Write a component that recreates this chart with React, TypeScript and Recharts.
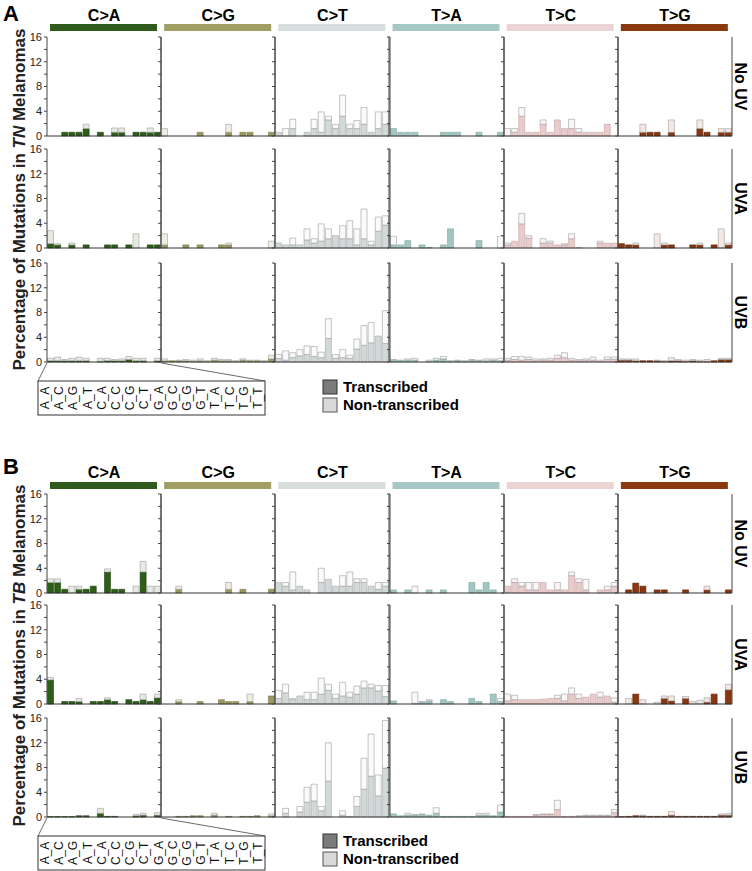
import { BarChart, Bar, XAxis, YAxis, ReferenceLine } from "recharts";

const FONT = '"Liberation Sans", Arial, sans-serif';

const TYPES = ["C>A", "C>G", "C>T", "T>A", "T>C", "T>G"];
const CONTEXTS = [
  "A_A", "A_C", "A_G", "A_T", "C_A", "C_C", "C_G", "C_T",
  "G_A", "G_C", "G_G", "G_T", "T_A", "T_C", "T_G", "T_T",
];
const ROW_NAMES = ["No UV", "UVA", "UVB"];
const Y_TICKS = [0, 2, 4, 6, 8, 10, 12, 14, 16];

// transcribed value and total bar height (transcribed + non-transcribed), 16 contexts x 6 types
const tnNoUvTrans = [
  0, 0, 0.6, 0.6, 0.6, 1.2, 0, 0.6, 0, 0.6, 0.6, 0, 0.6, 0.6, 0.6, 0.6,
  0, 0, 0, 0, 0, 0.6, 0, 0, 0, 0.6, 0, 0.6, 0.6, 0, 0, 0.6,
  0.6, 0, 1.2, 0, 0.6, 1.2, 0.6, 2.6, 1.2, 3.2, 1.2, 1.2, 1.9, 0.6, 1.2, 1.9,
  1.2, 0.6, 0.6, 0.6, 0, 0, 0, 0.6, 0.6, 0.6, 0, 0, 0.6, 0, 0, 0.6,
  0, 0.6, 3.2, 0.6, 0.6, 1.9, 0.6, 2.6, 1.2, 1.2, 0.6, 0.6, 0.6, 0.6, 1.9, 0,
  0, 0, 0, 0.6, 0.6, 0.6, 0, 0.6, 0, 0, 0, 1.2, 0.6, 0, 0.6, 0.6,
];
const tnNoUvTotal = [
  0, 0, 0.6, 0.6, 0.6, 1.9, 0, 0.6, 0, 1.3, 1.3, 0, 0.6, 0.6, 1.3, 0.6,
  1.2, 0, 0, 0, 0, 0.6, 0, 0, 0, 1.9, 0, 0.6, 0.6, 0, 0, 0.6,
  0.6, 1.2, 2.7, 0, 0.6, 2.7, 3.9, 3.2, 1.9, 6.6, 1.9, 2.5, 4.6, 0.6, 3.9, 3.9,
  1.2, 0.6, 0.6, 0.6, 0, 0, 0, 0.6, 0.6, 0.6, 0, 0, 0.6, 0, 0, 0.6,
  1.2, 1.2, 4.6, 0.6, 0.6, 2.6, 0.6, 2.6, 1.2, 2.7, 1.2, 0.6, 0.6, 0.6, 1.9, 0,
  0, 0, 0, 1.9, 0.6, 0.6, 0, 2.6, 0, 0, 0, 2.6, 0.6, 0, 1.2, 1.2,
];
const tnUvaTrans = [
  0.7, 0.5, 0, 0.5, 0, 0.5, 0, 0, 0.5, 0.5, 0, 0.5, 0, 0, 0.5, 0.5,
  0.5, 0, 0, 0.5, 0, 0.5, 0, 0, 0.5, 0.5, 0, 0, 0, 0, 0, 0,
  0.8, 0.5, 0.5, 0.5, 1.3, 0.8, 1.1, 1.5, 2.0, 1.5, 1.5, 0.5, 1.5, 0.5, 2.7, 3.7,
  0.5, 0.5, 1.2, 0, 0.5, 0.1, 0, 0.5, 3.1, 0, 0, 0, 1.2, 0, 0, 0,
  0.5, 1.1, 3.9, 1.6, 0, 0.8, 0.8, 0.5, 0.5, 1.5, 0.1, 0, 0, 0.8, 0.8, 0.8,
  0.7, 0.5, 0.5, 0, 0, 0, 0.5, 0.5, 0, 0, 0.5, 0.5, 0, 0.5, 0, 0.5,
];
const tnUvaTotal = [
  2.8, 0.7, 0, 0.8, 0, 0.5, 0, 0, 0.5, 0.5, 0, 0.5, 2.3, 0, 0.5, 0.5,
  2.3, 0, 0, 0.5, 0, 0.5, 0, 0, 0.5, 0.8, 0, 0, 0, 0, 0, 1.1,
  0.8, 0.5, 1.6, 0.5, 3.1, 1.5, 3.9, 3.1, 2.0, 3.6, 4.4, 3.1, 6.3, 1.1, 5.0, 5.2,
  1.9, 0.5, 1.2, 0, 0.5, 0.1, 0, 0.5, 3.1, 0, 0, 0, 1.2, 0, 0, 1.9,
  0.8, 1.1, 5.6, 2.0, 0, 1.5, 1.1, 0.5, 0.7, 2.3, 0.1, 0, 0, 1.1, 0.8, 0.8,
  0.7, 0.5, 0.8, 0, 0, 2.3, 0.8, 0.5, 0, 0, 0.5, 0.8, 0, 0.5, 3.1, 0.8,
];
const tnUvbTrans = [
  0.2, 0.2, 0.2, 0.2, 0.2, 0.2, 0, 0.1, 0.2, 0.2, 0.2, 0.4, 0.2, 0.2, 0, 0.2,
  0.2, 0.2, 0.2, 0.2, 0.1, 0.2, 0.1, 0.3, 0.2, 0.2, 0.1, 0.3, 0.2, 0.2, 0.1, 0.5,
  0.6, 0.3, 0.7, 1.0, 1.2, 0.9, 0.7, 3.8, 0.6, 0.7, 0.6, 2.1, 2.7, 3.1, 4.2, 3.0,
  0.3, 0.3, 0.3, 0.3, 0, 0.1, 0.3, 0.5, 0.1, 0.2, 0.1, 0.3, 0.2, 0.2, 0.3, 0.2,
  0.3, 0.4, 0.3, 0.4, 0.2, 0.3, 0.3, 0.6, 0.7, 0.3, 0.2, 0.3, 0.3, 0.1, 0.4, 0.4,
  0.3, 0.3, 0.2, 0.2, 0.2, 0.2, 0.1, 0.2, 0.2, 0.1, 0.2, 0.1, 0.1, 0.2, 0.4, 0.4,
];
const tnUvbTotal = [
  0.6, 0.8, 0.4, 0.6, 0.8, 0.6, 0, 0.6, 0.6, 0.4, 0.5, 0.9, 0.6, 0.6, 0, 0.6,
  0.5, 0.2, 0.3, 0.4, 0.3, 0.5, 0.2, 0.6, 0.4, 0.4, 0.2, 0.5, 0.3, 0.3, 0.2, 1.1,
  1.2, 1.8, 1.5, 2.0, 2.6, 2.5, 1.6, 7.0, 1.2, 2.0, 1.1, 3.7, 5.9, 6.4, 4.2, 8.3,
  0.4, 0.3, 0.5, 0.6, 0, 0.3, 0.6, 0.9, 0.2, 0.3, 0.2, 0.4, 0.3, 0.5, 0.5, 0.6,
  0.6, 0.9, 0.9, 0.8, 0.5, 0.5, 0.6, 1.1, 1.5, 0.6, 0.4, 0.5, 0.8, 0.3, 0.8, 0.8,
  0.5, 0.5, 0.5, 0.2, 0.2, 0.3, 0.2, 0.7, 0.4, 0.3, 0.4, 0.3, 0.4, 0.2, 0.6, 0.6,
];

const tbNoUvTrans = [
  1.7, 1.7, 0.6, 0, 0.6, 0.6, 1.1, 0, 3.4, 0.6, 0.6, 0, 0, 3.4, 0, 0,
  0, 0, 0.6, 0, 0, 0, 0, 0, 0, 0.6, 0, 0.6, 0, 0, 0, 0.6,
  1.7, 1.1, 0.5, 1.1, 0.5, 0, 1.7, 2.2, 1.1, 1.1, 1.1, 1.7, 1.7, 1.1, 0.6, 1.1,
  0.5, 0, 0.5, 0, 0, 0.5, 0, 0.5, 0, 0, 0, 1.7, 0.5, 1.7, 0.5, 0,
  1.1, 1.7, 1.1, 0.5, 0.5, 1.7, 0.5, 0.5, 0.5, 2.8, 1.7, 0.5, 0, 0.5, 0.5, 1.1,
  0, 0.5, 1.6, 1.1, 0, 0.5, 0.5, 0, 0, 0.5, 0, 0, 0.5, 0, 0, 0.5,
];
const tbNoUvTotal = [
  2.3, 2.3, 0.6, 1.1, 1.1, 0.6, 1.1, 0, 3.9, 0.6, 0.6, 0, 1.1, 5.1, 1.1, 1.1,
  0, 0, 1.1, 0, 0, 0, 0, 0, 0, 1.7, 0, 0.6, 0, 0, 0, 0.6,
  1.7, 1.7, 3.4, 1.1, 0.5, 0, 4.0, 2.2, 1.1, 2.8, 3.4, 2.3, 2.3, 1.1, 1.7, 1.7,
  0.5, 0, 0.5, 1.1, 0, 0.5, 0, 0.5, 0, 0, 0, 1.7, 0.5, 1.7, 0.5, 0,
  1.1, 2.3, 1.7, 1.7, 1.7, 1.7, 0.5, 1.7, 0.5, 3.4, 2.3, 2.2, 0, 0.5, 1.1, 1.7,
  0, 0.5, 1.6, 1.1, 0, 0.5, 0.5, 0, 0, 0.5, 0, 0, 1.1, 0, 0, 0.5,
];
const tbUvaTrans = [
  3.9, 0, 0.4, 0.4, 0.4, 0, 0.4, 0.4, 0.7, 0.4, 0, 0.7, 0.4, 0.7, 0.4, 1.0,
  0, 0, 0.4, 0, 0, 0.4, 0, 0, 0.7, 0.4, 0.4, 0, 0.4, 0, 0, 1.3,
  0.9, 1.8, 0.7, 1.3, 0.7, 0.7, 1.6, 2.2, 0.9, 1.3, 1.1, 1.6, 2.6, 2.6, 2.1, 1.2,
  0.5, 0, 0, 0.1, 0.4, 0.5, 0, 0.7, 0.4, 0, 0, 0.9, 0.4, 0, 1.6, 0.4,
  0.5, 0.7, 0.7, 0.7, 0.7, 0.8, 0.9, 0.9, 0.5, 1.6, 0.9, 1.1, 1.6, 1.1, 1.3, 0.3,
  0, 0, 1.6, 0, 0, 0, 0.9, 0.5, 0, 0.9, 0, 0, 0.3, 1.6, 0, 2.3,
];
const tbUvaTotal = [
  4.3, 0, 0.4, 0.4, 0.9, 0, 0.4, 0.4, 1.0, 0.4, 0, 0.7, 0.4, 1.6, 0.4, 1.6,
  0, 0, 0.7, 0, 0, 0.4, 0, 0, 0.7, 0.4, 0.4, 0, 1.6, 0, 0, 1.3,
  2.2, 3.2, 0.9, 1.3, 1.9, 1.9, 4.2, 3.2, 1.6, 3.5, 1.9, 2.9, 3.7, 3.2, 3.0, 3.0,
  0.5, 0, 0, 1.9, 0.4, 0.7, 0, 0.7, 0.4, 0, 0, 0.9, 0.4, 0, 1.6, 0.9,
  1.6, 1.4, 0.7, 0.7, 0.7, 0.8, 0.9, 1.4, 1.6, 2.6, 1.6, 1.1, 1.6, 1.9, 1.3, 1.0,
  0, 0.9, 1.6, 0.7, 0, 0.3, 1.3, 1.3, 0, 1.2, 0.4, 0.6, 1.0, 1.6, 0, 3.2,
];
const tbUvbTrans = [
  0.05, 0.05, 0.05, 0.05, 0.2, 0.2, 0, 0.6, 0.1, 0.1, 0, 0, 0.2, 0.3, 0, 0.3,
  0, 0, 0.1, 0.1, 0.2, 0.2, 0, 0.3, 0, 0.1, 0, 0.1, 0.1, 0.2, 0, 0.2,
  0, 0.6, 0, 0.8, 2.4, 2.6, 1.0, 5.8, 0, 0.3, 0.1, 1.7, 4.5, 6.6, 3.4, 7.9,
  0.5, 0.2, 0.3, 0.3, 0.4, 0.3, 0.6, 0.1, 0.1, 0.1, 0.1, 0.1, 0.3, 0.3, 0.2, 0.8,
  0.1, 0.1, 0.1, 0.1, 0.3, 0.4, 0.4, 1.2, 0.1, 0.1, 0.1, 0.2, 0.2, 0.2, 0.2, 0.7,
  0.05, 0.1, 0.2, 0.2, 0.1, 0.1, 0.1, 0.3, 0.1, 0.1, 0.1, 0.1, 0.1, 0.1, 0.3, 0.3,
];
const tbUvbTotal = [
  0.05, 0.05, 0.05, 0.05, 0.2, 0.2, 0, 1.4, 0.1, 0.1, 0, 0, 0.4, 0.6, 0, 0.7,
  0, 0, 0.1, 0.1, 0.2, 0.2, 0, 0.6, 0, 0.1, 0, 0.1, 0.1, 0.2, 0, 0.5,
  0, 1.4, 0, 1.7, 4.8, 5.3, 1.7, 12.0, 0, 1.0, 0.1, 3.3, 9.5, 13.4, 6.8, 15.6,
  0.5, 0.2, 0.6, 0.4, 0.5, 0.3, 1.5, 0.1, 0.1, 0.1, 0.1, 0.1, 0.6, 0.6, 0.2, 1.9,
  0.1, 0.1, 0.1, 0.1, 0.4, 0.5, 0.5, 2.7, 0.1, 0.1, 0.2, 0.3, 0.3, 0.3, 0.3, 1.2,
  0.05, 0.1, 0.2, 0.3, 0.1, 0.1, 0.1, 0.9, 0.1, 0.1, 0.1, 0.1, 0.1, 0.1, 0.5, 0.6,
];

const COLORS = [
  { head: "#2f5c1c", t: "#2d5e18", ts: "#1d3f0e", n: "#e6ebe2" },
  { head: "#a09e63", t: "#9a9860", ts: "#7d7b47", n: "#eeede3" },
  { head: "#d7dddd", t: "#d3d9d9", ts: "#a4aaaa", n: "#fafafa" },
  { head: "#a6c8c4", t: "#a3c6c2", ts: "#7fa6a2", n: "#f8fafa" },
  { head: "#edd4d4", t: "#e8cbcb", ts: "#c9a5a5", n: "#fbf6f6" },
  { head: "#8b3a10", t: "#8a360e", ts: "#5e2208", n: "#f3e8e3" },
];

const PLOT_X = 47;
const SUB_W = 114.17;
const PLOT_H = 99;
const PAD = 8;

function Subplot({ trans, total, col, top }: { trans: number[]; total: number[]; col: number; top: number }) {
  const data = CONTEXTS.map((ctx, i) => {
    const t = trans[col * 16 + i];
    const all = total[col * 16 + i];
    return { ctx, t, n: Math.max(0, Math.round((all - t) * 100) / 100) };
  });
  const c = COLORS[col];
  const left = Math.round(PLOT_X + col * SUB_W);
  return (
    <div style={{ position: "absolute", left: left - 30, top: top - PAD }}>
      <BarChart
        width={148}
        height={PLOT_H + 2 * PAD}
        data={data}
        margin={{ top: PAD, right: 0, bottom: PAD, left: 0 }}
        barCategoryGap={0.5}
      >
        <XAxis
          dataKey="ctx"
          orientation="top"
          height={0}
          interval={0}
          tickFormatter={() => ""}
          tickSize={2}
          axisLine={{ stroke: "#8a8a8a" }}
          tickLine={{ stroke: "#8a8a8a" }}
        />
        <YAxis
          yAxisId="l"
          type="number"
          domain={[0, 16]}
          ticks={Y_TICKS}
          interval={0}
          width={30}
          tickSize={3}
          axisLine={{ stroke: "#444" }}
          tickLine={{ stroke: "#444" }}
          tick={{ fontSize: 11, fill: "#222", fontFamily: FONT }}
          tickFormatter={(v) => (col === 0 && v % 4 === 0 ? String(v) : "")}
        />
        <YAxis
          yAxisId="r"
          orientation="right"
          type="number"
          domain={[0, 16]}
          ticks={Y_TICKS}
          interval={0}
          width={4}
          tickSize={2}
          axisLine={{ stroke: "#444" }}
          tickLine={{ stroke: "#444" }}
          tickFormatter={() => ""}
        />
        <Bar yAxisId="l" dataKey="t" stackId="s" fill={c.t} stroke={c.ts} strokeWidth={0.6} isAnimationActive={false} />
        <Bar yAxisId="l" dataKey="n" stackId="s" fill={c.n} stroke="#9e9e9e" strokeWidth={0.6} isAnimationActive={false} />
        <ReferenceLine yAxisId="l" y={0} stroke="#333" strokeWidth={1} />
      </BarChart>
    </div>
  );
}

const panels = [
  {
    letter: "A",
    group: "TN",
    letterY: 21,
    headY: 21,
    barY: 24,
    rowTops: [37, 149, 263],
    rows: [
      [tnNoUvTrans, tnNoUvTotal],
      [tnUvaTrans, tnUvaTotal],
      [tnUvbTrans, tnUvbTotal],
    ],
    boxY: 381,
    legendY: 380,
  },
  {
    letter: "B",
    group: "TB",
    letterY: 474,
    headY: 478,
    barY: 482,
    rowTops: [494, 605, 718],
    rows: [
      [tbNoUvTrans, tbNoUvTotal],
      [tbUvaTrans, tbUvaTotal],
      [tbUvbTrans, tbUvbTotal],
    ],
    boxY: 836,
    legendY: 834,
  },
];

function Decorations() {
  const boxX = 38;
  const boxW = 227;
  return (
    <svg width={752} height={871} style={{ position: "absolute", left: 0, top: 0 }} fontFamily={FONT}>
      {panels.map((p) => {
        const yMid = (p.rowTops[0] + p.rowTops[2] + PLOT_H) / 2;
        const bottom = p.rowTops[2] + PLOT_H;
        return (
          <g key={p.letter}>
            <text x={3} y={p.letterY} fontSize={22} fontWeight="bold">{p.letter}</text>
            {TYPES.map((t, i) => {
              const x0 = PLOT_X + i * SUB_W;
              return (
                <g key={t}>
                  <text x={x0 + SUB_W / 2} y={p.headY} fontSize={16} fontWeight="bold" textAnchor="middle">{t}</text>
                  <rect x={x0 + 3} y={p.barY} width={107} height={7} fill={COLORS[i].head} />
                </g>
              );
            })}
            <text transform={`translate(25,${yMid}) rotate(-90)`} fontSize={17} fontWeight="bold" textAnchor="middle" fill="#222">
              Percentage of Mutations in <tspan fontStyle="italic">{p.group}</tspan> Melanomas
            </text>
            {ROW_NAMES.map((r, i) => (
              <text key={r} transform={`translate(735,${p.rowTops[i] + PLOT_H / 2}) rotate(90)`} fontSize={16} fontWeight="bold" textAnchor="middle">
                {r}
              </text>
            ))}
            <line x1={PLOT_X} y1={bottom + 1} x2={boxX} y2={p.boxY} stroke="#444" strokeWidth={0.8} />
            <line x1={PLOT_X + SUB_W} y1={bottom + 1} x2={boxX + boxW} y2={p.boxY} stroke="#444" strokeWidth={0.8} />
            <rect x={boxX} y={p.boxY} width={boxW} height={34} fill="#fff" stroke="#333" strokeWidth={1} />
            {CONTEXTS.map((c, i) => (
              <text key={c} transform={`translate(${boxX + (i + 0.5) * (boxW / 16) + 4},${p.boxY + 17}) rotate(-90)`} fontSize={12} textAnchor="middle" fill="#111">
                {c}
              </text>
            ))}
            <rect x={323} y={p.legendY} width={14} height={14} fill="#7b7b7b" stroke="#333" strokeWidth={1} />
            <rect x={323} y={p.legendY + 18} width={14} height={14} fill="#d9d9d9" stroke="#555" strokeWidth={1} />
            <text x={343} y={p.legendY + 12} fontSize={15} fontWeight="bold">Transcribed</text>
            <text x={343} y={p.legendY + 30} fontSize={15} fontWeight="bold">Non-transcribed</text>
          </g>
        );
      })}
    </svg>
  );
}

export default function App() {
  return (
    <div style={{ position: "absolute", left: 0, top: 0, width: 752, height: 871, background: "#fff", fontFamily: FONT }}>
      <Decorations />
      {panels.map((p) =>
        p.rows.map(([trans, total], r) =>
          TYPES.map((t, col) => (
            <Subplot key={`${p.letter}-${r}-${t}`} trans={trans} total={total} col={col} top={p.rowTops[r]} />
          ))
        )
      )}
    </div>
  );
}
